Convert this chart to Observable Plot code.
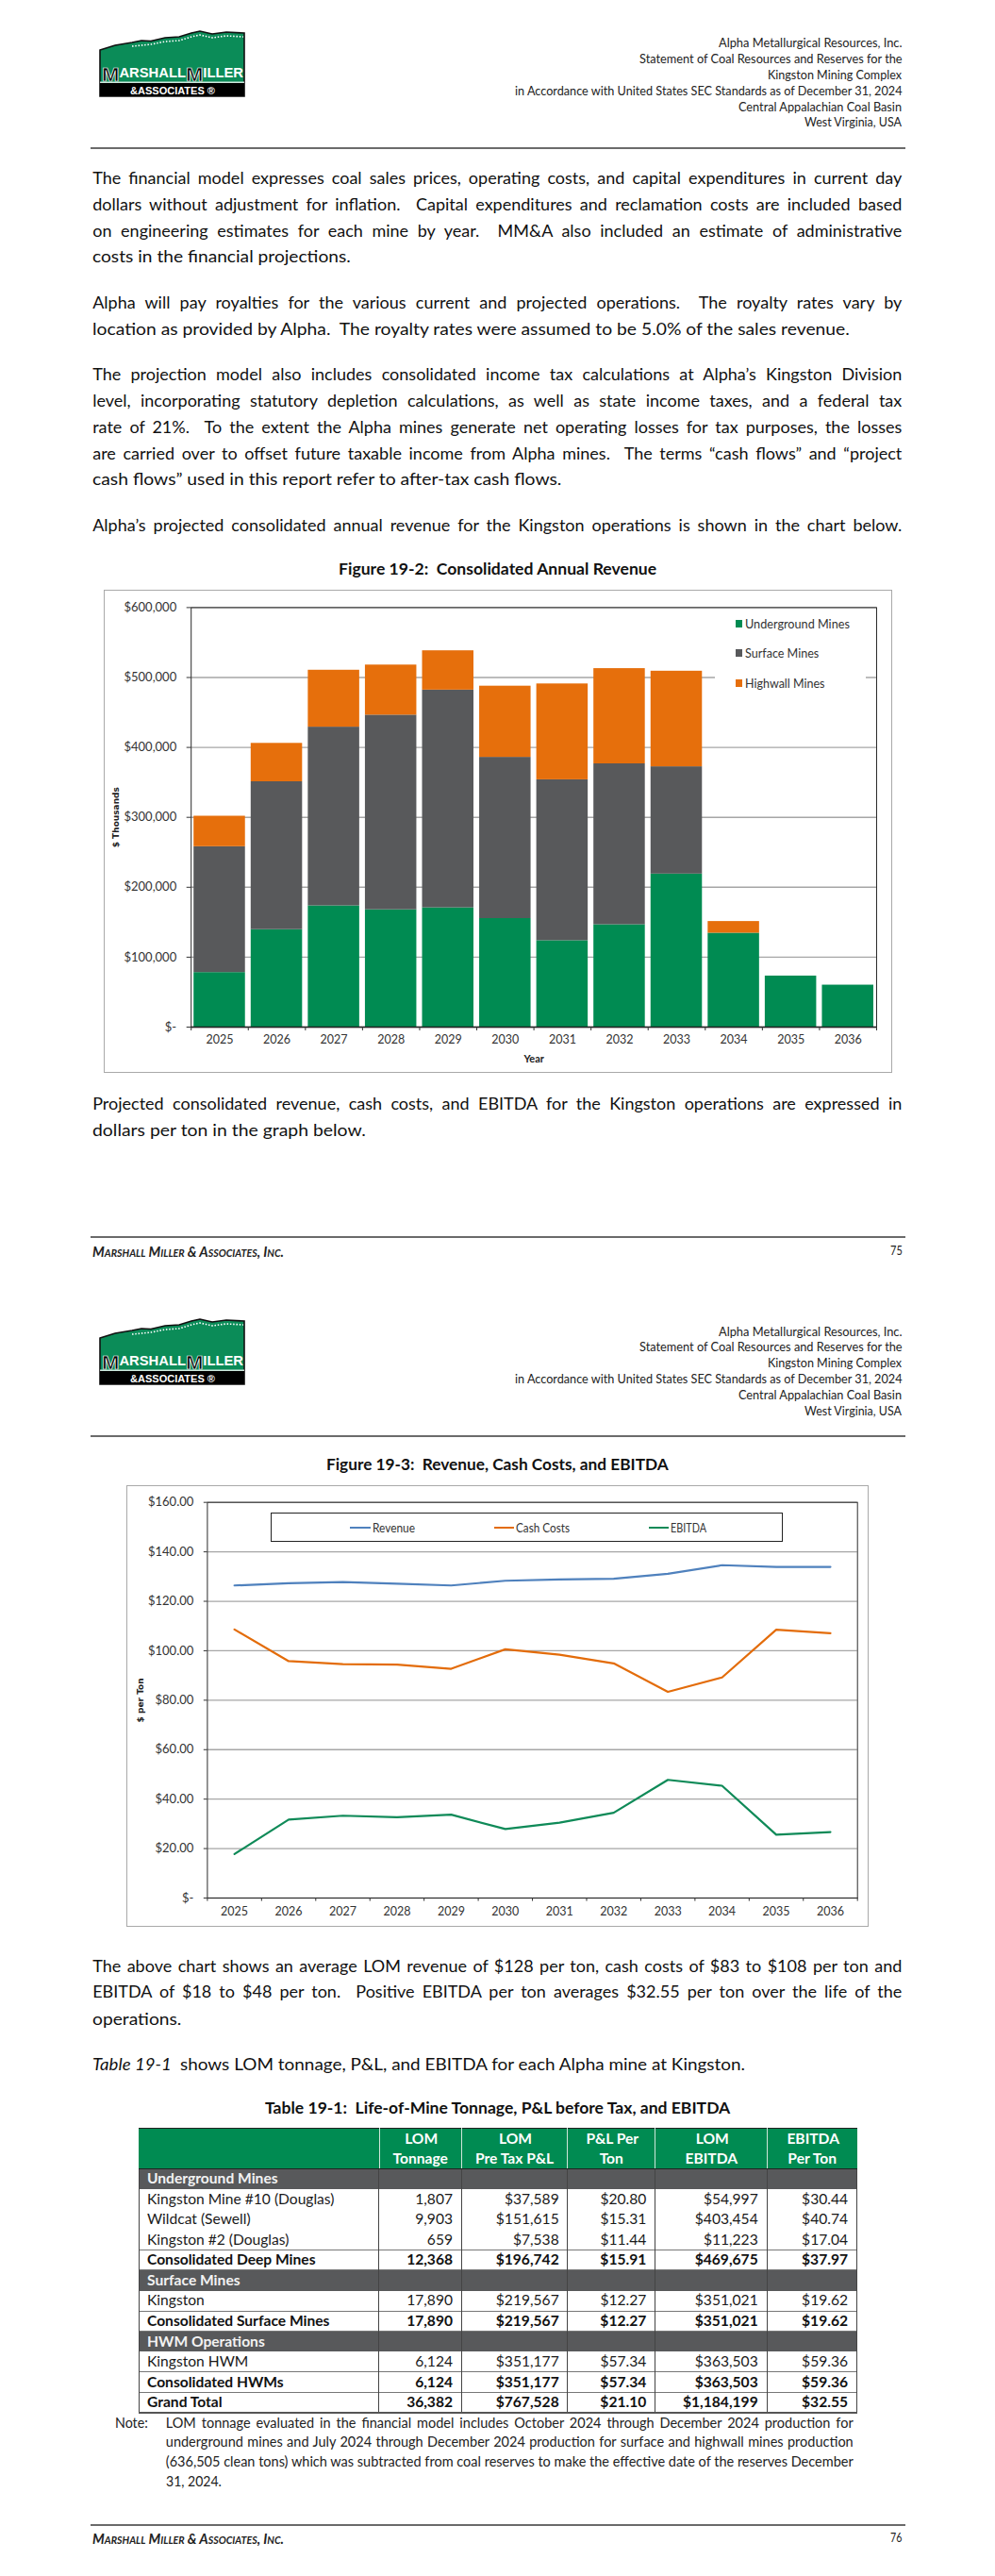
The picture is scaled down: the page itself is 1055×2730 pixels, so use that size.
<!DOCTYPE html>
<html lang="en">
<head>
<meta charset="utf-8">
<title>Kingston Mining Complex – Consolidated Revenue, Cash Costs and EBITDA</title>
<script src="https://cdn.jsdelivr.net/npm/d3@7"></script>
<script src="https://cdn.jsdelivr.net/npm/@observablehq/plot@0.6"></script>
<style>
html,body{margin:0;padding:0;background:#fff;}
body{position:relative;width:1055px;height:2730px;overflow:hidden;font-family:Lato,"Open Sans",sans-serif;color:#1a1a1a;}
.t{position:absolute;white-space:pre;line-height:1;}
.head{font-size:13.2px;color:#222;}
.body{font-size:18px;color:#111;}
.fig{font-size:17.6px;font-weight:700;color:#111;}
.cell{font-size:15.6px;color:#1a1a1a;}
.cellb{font-size:15.6px;font-weight:700;color:#111;}
.band{font-size:15.6px;font-weight:700;color:#f2f2f2;}
.hdr{font-size:15.6px;font-weight:700;color:#fff;}
.note{font-size:14.5px;color:#222;}
.foot{font-size:15px;font-style:italic;font-weight:700;font-variant:small-caps;color:#222;}
.page{font-size:13.2px;color:#222;}
.leg{font-size:13px;color:#333;}
.box{position:absolute;box-sizing:border-box;}
</style>
</head>
<body>
<script>
// ---------- chart data ----------
const years = [2025, 2026, 2027, 2028, 2029, 2030, 2031, 2032, 2033, 2034, 2035, 2036];
const underground = [78000, 139400, 173400, 167800, 170600, 155200, 123600, 146400, 218900, 134300, 73000, 60000];
const surfaceMines = [180000, 211500, 255600, 278400, 311400, 230600, 230100, 230100, 153400, 0, 0, 0];
const highwall = [43600, 54900, 81400, 71600, 56200, 101800, 137100, 136200, 136700, 16700, 0, 0];
const revenueTicks = [0, 100000, 200000, 300000, 400000, 500000, 600000];

const revenuePerTon = [126.4, 127.3, 127.8, 127.1, 126.4, 128.3, 128.8, 129.1, 131.1, 134.6, 133.9, 133.9];
const cashCosts = [108.6, 95.8, 94.6, 94.4, 92.7, 100.6, 98.4, 94.9, 83.4, 89.2, 108.5, 107.1];
const ebitda = [17.8, 31.7, 33.3, 32.7, 33.7, 27.9, 30.5, 34.5, 47.8, 45.4, 25.6, 26.7];
const perTonTicks = [0, 20, 40, 60, 80, 100, 120, 140, 160];

const barNames = ["Underground Mines", "Surface Mines", "Highwall Mines"];
const barColors = ["#008B52", "#58595B", "#E66F0C"];
const lineNames = ["Revenue", "Cash Costs", "EBITDA"];
const lineColors = ["#4F81BD", "#E36C0A", "#0F8A58"];

// ---------- page text ----------
const headerLines = [
  "Alpha Metallurgical Resources, Inc.",
  "Statement of Coal Resources and Reserves for the",
  "Kingston Mining Complex",
  "in Accordance with United States SEC Standards as of December 31, 2024",
  "Central Appalachian Coal Basin",
  "West Virginia, USA"
];
const page1Text = [
  "The financial model expresses coal sales prices, operating costs, and capital expenditures in current day",
  "dollars without adjustment for inflation.  Capital expenditures and reclamation costs are included based",
  "on engineering estimates for each mine by year.  MM&A also included an estimate of administrative",
  "costs in the financial projections.",
  "Alpha will pay royalties for the various current and projected operations.  The royalty rates vary by",
  "location as provided by Alpha.  The royalty rates were assumed to be 5.0% of the sales revenue.",
  "The projection model also includes consolidated income tax calculations at Alpha\u2019s Kingston Division",
  "level, incorporating statutory depletion calculations, as well as state income taxes, and a federal tax",
  "rate of 21%.  To the extent the Alpha mines generate net operating losses for tax purposes, the losses",
  "are carried over to offset future taxable income from Alpha mines.  The terms \u201ccash flows\u201d and \u201cproject",
  "cash flows\u201d used in this report refer to after-tax cash flows.",
  "Alpha\u2019s projected consolidated annual revenue for the Kingston operations is shown in the chart below."
];
const page1Between = [
  "Projected consolidated revenue, cash costs, and EBITDA for the Kingston operations are expressed in",
  "dollars per ton in the graph below."
];
const page2Text = [
  "The above chart shows an average LOM revenue of $128 per ton, cash costs of $83 to $108 per ton and",
  "EBITDA of $18 to $48 per ton.  Positive EBITDA per ton averages $32.55 per ton over the life of the",
  "operations."
];
const noteLines = [
  "LOM tonnage evaluated in the financial model includes October 2024 through December 2024 production for",
  "underground mines and July 2024 through December 2024 production for surface and highwall mines production",
  "(636,505 clean tons) which was subtracted from coal reserves to make the effective date of the reserves December",
  "31, 2024."
];
const tableHeader = [["LOM", "Tonnage"], ["LOM", "Pre Tax P&L"], ["P&L Per", "Ton"], ["LOM", "EBITDA"], ["EBITDA", "Per Ton"]];
const tableRows = [
  ["band", "Underground Mines"],
  ["row", "Kingston Mine #10 (Douglas)", "1,807", "$37,589", "$20.80", "$54,997", "$30.44"],
  ["row", "Wildcat (Sewell)", "9,903", "$151,615", "$15.31", "$403,454", "$40.74"],
  ["row", "Kingston #2 (Douglas)", "659", "$7,538", "$11.44", "$11,223", "$17.04"],
  ["total", "Consolidated Deep Mines", "12,368", "$196,742", "$15.91", "$469,675", "$37.97"],
  ["band", "Surface Mines"],
  ["row", "Kingston", "17,890", "$219,567", "$12.27", "$351,021", "$19.62"],
  ["total", "Consolidated Surface Mines", "17,890", "$219,567", "$12.27", "$351,021", "$19.62"],
  ["band", "HWM Operations"],
  ["row", "Kingston HWM", "6,124", "$351,177", "$57.34", "$363,503", "$59.36"],
  ["total", "Consolidated HWMs", "6,124", "$351,177", "$57.34", "$363,503", "$59.36"],
  ["total", "Grand Total", "36,382", "$767,528", "$21.10", "$1,184,199", "$32.55"]
];

// ---------- page helpers ----------
const L = 98.2, R = 956.3;
function put(s, cls, y, o = {}) {
  const el = document.createElement("div");
  el.className = "t " + cls;
  el.textContent = s;
  document.body.appendChild(el);
  const w = el.getBoundingClientRect().width;
  let sx = 1, left;
  if (o.x0 !== undefined && o.x1 !== undefined) {
    const target = o.x1 - o.x0, spaces = (s.match(/ /g) || []).length;
    left = o.x0;
    if (o.justify && w < target && spaces) el.style.wordSpacing = ((target - w) / spaces) + "px";
    else sx = target / w;
  } else if (o.right !== undefined) left = o.right - w;
  else if (o.center !== undefined) left = o.center - w / 2;
  else left = o.x0;
  el.style.left = left + "px";
  el.style.top = y + "px";
  el.style.transformOrigin = "left center";
  el.style.transform = `translateY(-50%) scaleX(${sx})`;
  return el;
}
function box(x0, y0, x1, y1, css) {
  const el = document.createElement("div");
  el.className = "box";
  el.style.cssText = `left:${x0}px;top:${y0}px;width:${x1 - x0}px;height:${y1 - y0}px;${css}`;
  document.body.appendChild(el);
  return el;
}
function rule(y) { box(95.6, y - 0.7, 960, y + 0.7, "background:#6b6b6b;"); }
function logo(x, y) {
  const el = document.createElement("div");
  el.style.cssText = `position:absolute;left:${x}px;top:${y}px;width:170px;height:80px;`;
  const F = 'font-family="Liberation Sans" font-weight="700"';
  el.innerHTML = `<svg width="170" height="80" viewBox="0 0 170 80" style="display:block">
    <path d="M6 25 L22 20 L40 17 L50 15 L60 15.5 L75 12 L90 11 L103 7 L112 5 L125 8 L140 6 L159 7 V74 H6 Z" fill="#0B8C58" stroke="#111" stroke-width="1.6"/>
    <path d="M40 21 L60 19 L75 16 L90 15 L103 11 L112 9 L125 12 L140 10 L158 11" fill="none" stroke="#fff" stroke-width="1.6" stroke-dasharray="1.5 1.8"/>
    <rect x="6" y="60" width="153" height="14" fill="#000"/>
    <rect x="6" y="58.6" width="153" height="1.2" fill="#fff"/>
    <text x="8" y="57.5" textLength="150" lengthAdjust="spacingAndGlyphs" ${F} font-size="14" fill="#fff"><tspan font-size="21" fill="#000" stroke="#fff" stroke-width="0.7">M</tspan><tspan dy="-4">ARSHALL</tspan><tspan dy="4" font-size="21" fill="#000" stroke="#fff" stroke-width="0.7">M</tspan><tspan dy="-4">ILLER</tspan></text>
    <text x="38" y="71.5" textLength="90" lengthAdjust="spacingAndGlyphs" ${F} font-size="10" fill="#fff">&amp;ASSOCIATES \u00AE</text>
  </svg>`;
  document.body.appendChild(el);
}
const dollars = (d) => d === 0 ? "$-" : "$" + d3.format(",")(d);
const dollars2 = (d) => d === 0 ? "$-" : "$" + d3.format(".2f")(d);
const yearEdges = d3.range(12 + 1).map((i) => years[0] - 0.5 + i);

// ---------- page 1 text ----------
logo(100, 28);
const headX = [761.8, 677.7, 814.3, 545.8, 783.3, 853.3];
[46, 63, 80, 97, 113.5, 130].forEach((y, i) => put(headerLines[i], "head", y, {x0: headX[i], x1: R}));
rule(157);
const page1Y = [188, 216, 243.6, 271.4, 320, 348, 396, 424, 452, 480, 507, 555.5];
const page1End = [R, R, R, 372, R, 901, R, R, R, R, 595.6, R];
page1Text.forEach((s, i) => put(s, "body", page1Y[i], {x0: L, x1: page1End[i], justify: page1End[i] === R}));
put("Figure 19-2:  Consolidated Annual Revenue", "fig", 603, {x0: 358.7, x1: 695.8});

// ---------- Figure 19-2 ----------
box(109.6, 624.5, 946, 1137, "border:1.6px solid #a9a9a9;");
const revenueData = barNames.flatMap((name, k) =>
  years.map((year, i) => ({year, name, value: [underground, surfaceMines, highwall][k][i]})));
const chart1 = Plot.plot({
  width: 836, height: 513,
  marginLeft: 92.2, marginRight: 17, marginTop: 19.4, marginBottom: 49,
  style: {position: "absolute", left: "110px", top: "624px", background: "transparent", fontFamily: "Lato", fontSize: "13px", color: "#333", overflow: "visible"},
  x: {domain: [years[0] - 0.5, years[11] + 0.5]},
  y: {domain: [0, 600000]},
  color: {domain: barNames, range: barColors},
  marks: [
    Plot.ruleY(revenueTicks, {stroke: "#a6a6a6", strokeWidth: 1.4}),
    Plot.rectY(revenueData, {
      x1: (d) => d.year - 0.45, x2: (d) => d.year + 0.45,
      y: "value", fill: "name", z: "name"
    }),
    Plot.frame({stroke: "#2b2b2b", strokeWidth: 1}),
    Plot.ruleY([0], {stroke: "#222", strokeWidth: 1.4}),
    Plot.axisY({ticks: revenueTicks, tickFormat: dollars, tickSize: 4.5, tickPadding: 11, label: null, stroke: "#333", fontSize: 13}),
    Plot.axisX({ticks: yearEdges, tickSize: 4, fill: "none", label: null, stroke: "#333"}),
    Plot.axisX({ticks: years, tickFormat: (d) => String(d), tickSize: 0, tickPadding: 9, fontSize: 12.5, label: null}),
    Plot.text(["$ Thousands"], {text: (d) => d, frameAnchor: "left", textAnchor: "middle", dx: -79.7, rotate: -90, fontFamily: "DejaVu Sans", fontWeight: "bold", fontSize: 9, fill: "#222"}),
    Plot.text(["Year"], {text: (d) => d, frameAnchor: "bottom", lineAnchor: "middle", dy: 33.7, fontWeight: "bold", fontSize: 11, fill: "#222"})
  ]
});
document.body.appendChild(chart1);
box(757.8, 650, 917.7, 738, "background:#fff;");
const leg1Y = [661, 692.3, 724.3], leg1End = [900.9, 868.3, 874.5];
barNames.forEach((name, i) => {
  box(780.2, leg1Y[i] - 4, 787.2, leg1Y[i] + 4, `background:${barColors[i]};`);
  put(name, "leg", leg1Y[i], {x0: 790, x1: leg1End[i]});
});

page1Between.forEach((s, i) => put(s, "body", [1169.3, 1197.3][i], i === 0 ? {x0: L, x1: R, justify: true} : {x0: L, x1: 388}));
rule(1311);
put("Marshall Miller & Associates, Inc.", "foot", 1325.7, {x0: 98, x1: 301});
put("75", "page", 1325.7, {x0: 943.5, x1: R});

// ---------- page 2 text ----------
logo(100, 1393);
[1411.7, 1428, 1445, 1461.7, 1478.7, 1495.7].forEach((y, i) => put(headerLines[i], "head", y, {x0: headX[i], x1: R}));
rule(1522);
put("Figure 19-3:  Revenue, Cash Costs, and EBITDA", "fig", 1551.7, {x0: 345.9, x1: 708.6});

// ---------- Figure 19-3 ----------
box(133.6, 1573.7, 921.3, 2041.7, "border:1.6px solid #a9a9a9;");
const perTonData = lineNames.flatMap((name, k) =>
  years.map((year, i) => ({year, name, value: [revenuePerTon, cashCosts, ebitda][k][i]})));
const chart2 = Plot.plot({
  width: 787, height: 468,
  marginLeft: 85.4, marginRight: 12.3, marginTop: 17.7, marginBottom: 31,
  style: {position: "absolute", left: "134px", top: "1574px", background: "transparent", fontFamily: "Lato", fontSize: "13px", color: "#333", overflow: "visible"},
  x: {domain: [years[0] - 0.5, years[11] + 0.5]},
  y: {domain: [0, 160]},
  color: {domain: lineNames, range: lineColors},
  marks: [
    Plot.ruleY(perTonTicks, {stroke: "#a6a6a6", strokeWidth: 1.3}),
    Plot.frame({stroke: "#2b2b2b", strokeWidth: 1}),
    Plot.line(perTonData, {x: "year", y: "value", stroke: "name", strokeWidth: 2.2, curve: "linear"}),
    Plot.axisY({ticks: perTonTicks, tickFormat: dollars2, tickSize: 3.6, tickPadding: 11, label: null, stroke: "#333", fontSize: 13}),
    Plot.axisX({ticks: yearEdges, tickSize: 3.6, fill: "none", label: null, stroke: "#333"}),
    Plot.axisX({ticks: years, tickFormat: (d) => String(d), tickSize: 0, tickPadding: 10, fontSize: 12.5, label: null}),
    Plot.text(["$ per Ton"], {text: (d) => d, frameAnchor: "left", textAnchor: "middle", dx: -70.6, rotate: -90, fontFamily: "DejaVu Sans", fontWeight: "bold", fontSize: 9, fill: "#222"})
  ]
});
document.body.appendChild(chart2);
box(287.4, 1603, 829.7, 1634.3, "background:#fff;border:1.3px solid #222;");
[[371, 393, 395, 440], [523.8, 545.2, 547.3, 604.3], [687.5, 709.4, 711, 749]].forEach(([a, b, c, e], i) => {
  box(a, 1617.7, b, 1619.9, `background:${lineColors[i]};`);
  put(lineNames[i], "leg", 1618.7, {x0: c, x1: e});
});

put(page2Text[0], "body", 2082.7, {x0: L, x1: R, justify: true});
put(page2Text[1], "body", 2110.3, {x0: L, x1: R, justify: true});
put(page2Text[2], "body", 2138.7, {x0: L, x1: 192.6});
const t1 = put("Table 19-1", "body", 2187.3, {x0: L, x1: 185});
t1.style.fontStyle = "italic";
put("shows LOM tonnage, P&L, and EBITDA for each Alpha mine at Kingston.", "body", 2187.3, {x0: 191, x1: 790});
put("Table 19-1:  Life-of-Mine Tonnage, P&L before Tax, and EBITDA", "fig", 2234.3, {x0: 280.7, x1: 774});

// ---------- Table 19-1 ----------
const colEdges = [147, 401.9, 489.4, 601.7, 694.8, 813.8, 908.6];
const rightEnds = [480, 592.7, 685.3, 803.7, 899];
const tableTop = 2255.3, headBottom = 2298.3, rowH = (2557 - headBottom) / tableRows.length;
box(colEdges[0], tableTop, colEdges[6], headBottom, "background:#008B52;border-top:1.2px solid #222;");
colEdges.slice(1, 6).forEach((x) => box(x - 0.4, tableTop, x + 0.4, headBottom, "background:#cfe6da;"));
tableHeader.forEach(([a, b], i) => {
  const c = (colEdges[i + 1] + colEdges[i + 2]) / 2;
  put(a, "hdr", 2267.3, {center: c + 1});
  put(b, "hdr", 2288.3, {center: c});
});
tableRows.forEach(([kind, label, ...vals], i) => {
  const y0 = headBottom + i * rowH, y1 = y0 + rowH, yc = (y0 + y1) / 2;
  if (kind === "band") box(colEdges[0], y0, colEdges[6], y1, "background:#58595B;");
  else if (kind === "total" || (tableRows[i + 1] && tableRows[i + 1][0] === "total"))
    box(colEdges[0], y1 - 0.6, colEdges[6], y1 + 0.6, "background:#777;");
  const cls = kind === "band" ? "band" : kind === "total" ? "cellb" : "cell";
  put(label, cls, yc, {x0: 156});
  vals.forEach((v, j) => put(v, cls, yc, {right: rightEnds[j]}));
});
colEdges.forEach((x) => box(x - 0.5, headBottom, x + 0.5, 2557, "background:#444;"));
box(colEdges[0], headBottom - 0.6, colEdges[6], headBottom + 0.6, "background:#222;");
box(colEdges[0], 2556.4, colEdges[6], 2557.6, "background:#555;");

// ---------- note and footer ----------
put("Note:", "note", 2568, {x0: 121.9, x1: 156.7});
[2568, 2588.3, 2609, 2630.3].forEach((y, i) => put(noteLines[i], "note", y, i < 3 ? {x0: 175.8, x1: 904.7, justify: true} : {x0: 175.8, x1: 234.7}));
rule(2676);
put("Marshall Miller & Associates, Inc.", "foot", 2690, {x0: 98, x1: 301});
put("76", "page", 2690, {x0: 944, x1: R});
</script>
</body>
</html>
